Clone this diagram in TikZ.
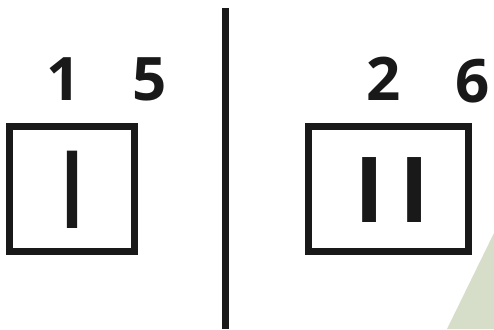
\documentclass[tikz,border=0pt]{standalone}
\usepackage{fontspec}
\setmainfont{Open Sans}
\newfontface\osemi{Open Sans}[FakeBold=1.5]
\definecolor{sage}{RGB}{214,222,201}
\begin{document}
\begin{tikzpicture}[x=1pt,y=-1pt,
  framebox/.style={draw=black!90,line width=7pt},
  digit/.style={inner sep=0pt,anchor=base,font=\fontsize{60}{60}\selectfont\bfseries,text=black!90},
  numeral/.style={inner sep=0pt,anchor=base,text=black!90}]
\useasboundingbox (0,0) rectangle (494,329);
\fill[white] (0,0) rectangle (494,329);
\fill[sage] (447,329) -- (494,233) -- (494,329) -- cycle;
\coordinate (ltop) at (225.5,8);
\coordinate (lbot) at (225.5,329);
\draw[black!90,line width=7pt] (ltop) -- (lbot);
\draw[framebox] (9.5,126.5) rectangle (134.5,251.5);
\draw[framebox] (308.5,126.5) rectangle (468.5,251.5);
\node[digit] (d1) at (64,100) {1};
\node[digit] (d5) at (150,100) {5};
\node[digit] (d2) at (384,100) {2};
\node[digit] (d6) at (472.5,102) {6};
\node[numeral,font=\fontsize{106}{106}\osemi] (n1) at (72,227) {I};
\node[numeral,font=\fontsize{91}{91}\selectfont\bfseries] (n2) at (392,222) {I\hspace{15pt}I};
\end{tikzpicture}
\end{document}
